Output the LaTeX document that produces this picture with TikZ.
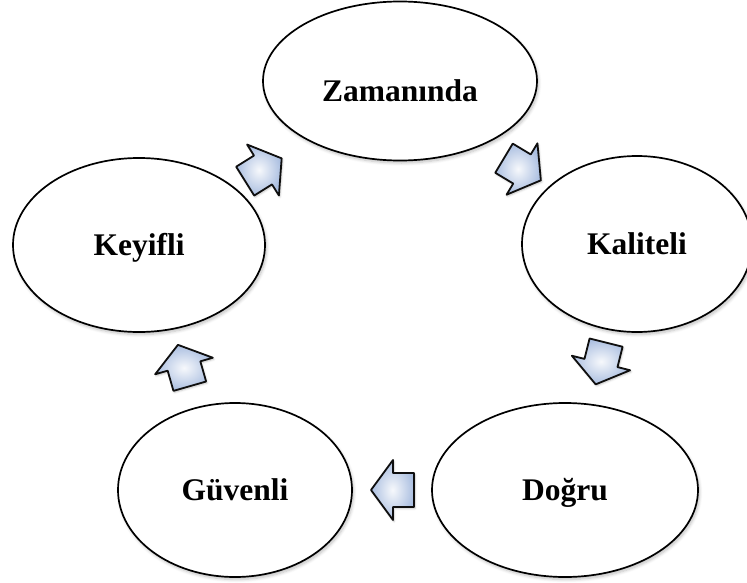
\documentclass[tikz,border=0pt]{standalone}
\usepackage{fontspec}
\setmainfont{Liberation Serif}
\usetikzlibrary{shapes.geometric,shadows.blur}

\definecolor{arrowedge}{RGB}{15,15,15}
\definecolor{arrowblue}{RGB}{170,190,224}

\tikzset{
  stage/.style={ellipse, draw=black, line width=1.7pt, fill=white,
    inner sep=0pt, text depth=0pt, text height=21pt,
    font=\fontsize{31.5}{36}\selectfont\bfseries,
    blur shadow={shadow xshift=1.5pt, shadow yshift=-2.5pt,
      shadow blur steps=6, shadow blur radius=3pt, shadow opacity=25}},
  flowarrow/.style={draw=arrowedge, line width=1.8pt, line join=round,
    inner color=white!90!arrowblue, outer color=arrowblue,
    blur shadow={shadow xshift=1pt, shadow yshift=-1.5pt,
      shadow blur steps=4, shadow blur radius=2pt, shadow opacity=25}},
  blockarrow/.pic={
    \path[flowarrow] (22,0) -- (0,30) -- (0,17) -- (-21,17)
      -- (-21,-17) -- (0,-17) -- (0,-30) -- cycle;
  }
}

\begin{document}
\begin{tikzpicture}[x=1pt, y=-1pt]
  \useasboundingbox (0,0) rectangle (747,583);

  % the five stages of the cycle
  \node[stage, minimum width=274pt, minimum height=159pt] (zam) at (400,81)
    {\raisebox{-10pt}{Zamanında}};
  \node[stage, minimum width=230pt, minimum height=176pt] (kal) at (637,244) {Kaliteli};
  \node[stage, minimum width=266pt, minimum height=174pt] (dog) at (565,490) {Doğru};
  \node[stage, minimum width=234pt, minimum height=174pt] (guv) at (235,490) {Güvenli};
  \node[stage, minimum width=252pt, minimum height=174pt] (key) at (139,245) {Keyifli};

  % block arrows running clockwise between the stages
  \pic[rotate=-31]  at (522,169)   {blockarrow};
  \pic[rotate=-104] at (601,363)   {blockarrow};
  \pic[rotate=180]  at (393,490)   {blockarrow};
  \pic[rotate=106]  at (184,366)   {blockarrow};
  \pic[rotate=32]   at (263,170)   {blockarrow};
\end{tikzpicture}
\end{document}
